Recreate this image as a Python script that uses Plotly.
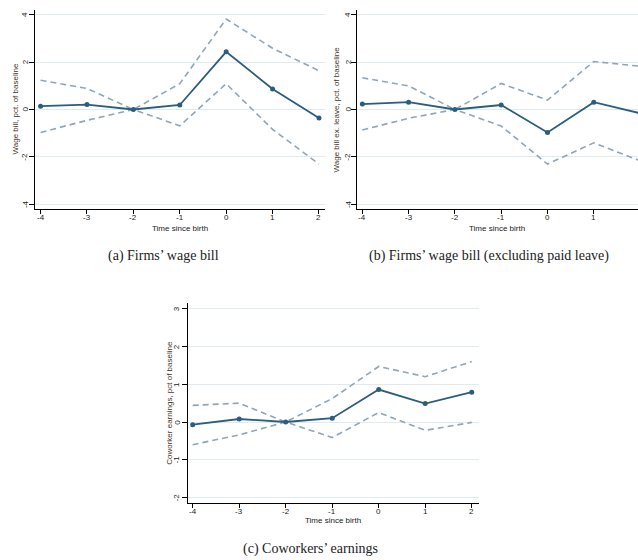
import plotly.graph_objects as go

periods = [-4, -3, -2, -1, 0, 1, 2]
tick_labels = ["-4", "-3", "-2", "-1", "0", "1", "2"]

a_est = [0.14, 0.21, 0.0, 0.19, 2.44, 0.87, -0.36]
a_hi = [1.24, 0.89, 0.0, 1.09, 3.83, 2.59, 1.64]
a_lo = [-0.97, -0.46, 0.0, -0.69, 1.09, -0.84, -2.31]

b_est = [0.23, 0.31, 0.0, 0.19, -0.97, 0.31, -0.16]
b_hi = [1.34, 1.00, 0.0, 1.10, 0.40, 2.03, 1.83]
b_lo = [-0.87, -0.37, 0.0, -0.70, -2.31, -1.41, -2.17]

c_est = [-0.07, 0.08, 0.0, 0.10, 0.86, 0.49, 0.79]
c_hi = [0.44, 0.50, 0.0, 0.62, 1.47, 1.20, 1.60]
c_lo = [-0.60, -0.34, 0.0, -0.41, 0.25, -0.22, -0.01]

ytick_ab = [-4, -2, 0, 2, 4]
ytick_c = [-2, -1, 0, 1, 2, 3]

y_titles = ["Wage bill, pct. of baseline",
            "Wage bill ex. leave, pct. of baseline",
            "Coworker earnings, pct of baseline"]
x_title = "Time since birth"
captions = ["(a) Firms\u2019 wage bill",
            "(b) Firms\u2019 wage bill (excluding paid leave)",
            "(c) Coworkers\u2019 earnings"]

W, H = 638, 560
MAIN = "#2b5d7e"
CI = "#8fa6b6"
GRID = "#e0ebf0"
SANS = "Liberation Sans, Arial, sans-serif"
SERIF = "Liberation Serif, Times New Roman, serif"

def px(x):
    return x / W

def py(y):
    return 1 - y / H

fig = go.Figure()

panels = [
    dict(est=a_est, hi=a_hi, lo=a_lo, ax="", left=35, right=325, top=10, bottom=209,
         xr=[-4.12, 2.13], yr=[-4.21, 4.21], yt=ytick_ab, ylab_dx=10, xlab_dy=9,
         ytitle_x=15, xtitle=(180, 228), cap=(163, 256)),
    dict(est=b_est, hi=b_hi, lo=b_lo, ax="2", left=357, right=638, top=10, bottom=209,
         xr=[-4.115, 1.955], yr=[-4.21, 4.21], yt=ytick_ab, ylab_dx=9, xlab_dy=9,
         ytitle_x=336, xtitle=(497, 228), cap=(489, 256)),
    dict(est=c_est, hi=c_hi, lo=c_lo, ax="3", left=187.7, right=479, top=303, bottom=502.5,
         xr=[-4.107, 2.156], yr=[-2.13, 3.15], yt=ytick_c, ylab_dx=11, xlab_dy=8.5,
         ytitle_x=170, xtitle=(333, 520), cap=(310, 549)),
]

layout = dict(width=W, height=H, margin=dict(l=0, r=0, t=0, b=0),
              paper_bgcolor="white", plot_bgcolor="white", showlegend=False)
annotations = []
tick_font = dict(family=SANS, size=8, color="#222")

for p, ytitle, cap in zip(panels, y_titles, captions):
    xa = "x" + p["ax"]
    ya = "y" + p["ax"]
    for series in (p["hi"], p["lo"]):
        fig.add_trace(go.Scatter(x=periods, y=series, mode="lines", xaxis=xa, yaxis=ya,
                                 line=dict(color=CI, width=1.6, dash="6px,4px"),
                                 hoverinfo="skip"))
    fig.add_trace(go.Scatter(x=periods, y=p["est"], mode="lines+markers", xaxis=xa, yaxis=ya,
                             line=dict(color=MAIN, width=1.8),
                             marker=dict(color=MAIN, size=5), cliponaxis=True))
    layout["xaxis" + p["ax"]] = dict(
        domain=[px(p["left"]), px(p["right"])], range=p["xr"], anchor=ya,
        showline=True, linecolor="black", linewidth=1.3,
        ticks="outside", ticklen=4, tickwidth=1, tickcolor="black",
        tickvals=periods, showticklabels=False,
        showgrid=False, zeroline=False, fixedrange=True)
    layout["yaxis" + p["ax"]] = dict(
        domain=[py(p["bottom"]), py(p["top"])], range=p["yr"], anchor=xa,
        showline=True, linecolor="black", linewidth=1.3,
        ticks="outside", ticklen=5, tickwidth=1, tickcolor="black",
        tickvals=p["yt"], showticklabels=False,
        showgrid=True, gridcolor=GRID, gridwidth=1, zeroline=False, fixedrange=True)
    # x tick labels
    for v, t in zip(periods, tick_labels):
        if p["xr"][0] <= v <= p["xr"][1]:
            annotations.append(dict(x=v, xref=xa, y=py(p["bottom"] + p["xlab_dy"]), yref="paper",
                                    text=t, showarrow=False, xanchor="center", yanchor="middle",
                                    font=tick_font))
    # y tick labels (rotated)
    for v in p["yt"]:
        annotations.append(dict(x=px(p["left"] - p["ylab_dx"]), xref="paper", y=v, yref=ya,
                                text=str(v), textangle=-90, showarrow=False,
                                xanchor="center", yanchor="middle", font=tick_font))
    # y title
    annotations.append(dict(x=px(p["ytitle_x"]), y=py((p["top"] + p["bottom"]) / 2),
                            xref="paper", yref="paper", text=ytitle, textangle=-90,
                            showarrow=False, xanchor="center", yanchor="middle",
                            font=dict(family=SANS, size=8, color="#4a3528")))
    # x title
    annotations.append(dict(x=px(p["xtitle"][0]), y=py(p["xtitle"][1]), xref="paper", yref="paper",
                            text=x_title, showarrow=False, xanchor="center", yanchor="middle",
                            font=dict(family=SANS, size=8, color="#222")))
    # caption
    annotations.append(dict(x=px(p["cap"][0]), y=py(p["cap"][1]), xref="paper", yref="paper",
                            text=cap, showarrow=False, xanchor="center", yanchor="middle",
                            font=dict(family=SERIF, size=14, color="#222")))

layout["annotations"] = annotations
fig.update_layout(**layout)
fig.write_html("out.html", config={"displayModeBar": False},
               post_script="document.body.style.margin='0';document.body.style.padding='0';")
